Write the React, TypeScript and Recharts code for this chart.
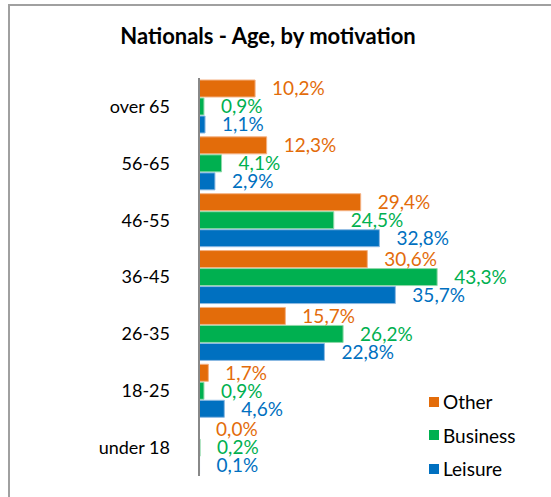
import { Bar, BarChart, LabelList, XAxis, YAxis } from 'recharts';

const categories = ['over 65', '56-65', '46-55', '36-45', '26-35', '18-25', 'under 18'];
const other = [10.2, 12.3, 29.4, 30.6, 15.7, 1.7, 0.0];
const business = [0.9, 4.1, 24.5, 43.3, 26.2, 0.9, 0.2];
const leisure = [1.1, 2.9, 32.8, 35.7, 22.8, 4.6, 0.1];

const series = [
  { key: 'other', name: 'Other', color: '#E36C0A', edge: '#F4B183' },
  { key: 'business', name: 'Business', color: '#00B050', edge: '#8FD9A8' },
  { key: 'leisure', name: 'Leisure', color: '#0070C0', edge: '#8DB9E2' },
];

const data = categories.map((age, i) => ({
  age,
  other: other[i],
  business: business[i],
  leisure: leisure[i],
}));

const font = 'Lato, "Open Sans", sans-serif';
const pct = (v: any) => Number(v).toFixed(1).replace('.', ',') + '%';

function LegendBox() {
  return (
    <div style={{ position: 'absolute', left: 429, top: 385, fontFamily: font, fontSize: 19, color: '#000' }}>
      {series.map((s) => (
        <div key={s.key} style={{ display: 'flex', alignItems: 'center', height: 33.5 }}>
          <span style={{ width: 10, height: 10, background: s.color, marginRight: 4 }} />
          <span>{s.name}</span>
        </div>
      ))}
    </div>
  );
}

export default function App() {
  return (
    <div style={{ position: 'fixed', left: 0, top: 0, width: 551, height: 497, background: '#fff', overflow: 'hidden' }}>
      <div
        style={{
          position: 'absolute',
          left: 8,
          top: 4,
          width: 543,
          height: 493,
          borderTop: '2px solid #a0a0a0',
          borderLeft: '2px solid #a0a0a0',
        }}
      />
      <div
        style={{
          position: 'absolute',
          left: 0,
          width: 536,
          top: 22,
          textAlign: 'center',
          fontFamily: font,
          fontWeight: 'bold',
          fontSize: 22,
          color: '#000',
        }}
      >
        Nationals - Age, by motivation
      </div>
      <div style={{ position: 'absolute', left: 0, top: 0 }}>
        <BarChart
          width={551}
          height={497}
          data={data}
          layout="vertical"
          margin={{ top: 78, right: 22, bottom: 21, left: 0 }}
          barCategoryGap={2}
          barGap={1}
        >
          <XAxis type="number" domain={[0, 60]} hide />
          <YAxis
            type="category"
            dataKey="age"
            width={199}
            tickLine={false}
            tickSize={0}
            tickMargin={29}
            axisLine={{ stroke: '#888', strokeWidth: 2 }}
            tick={{ fill: '#000', fontSize: 18, fontFamily: font }}
          />
          {series.map((s) => (
            <Bar
              key={s.key}
              dataKey={s.key}
              name={s.name}
              fill={s.color}
              stroke={s.edge}
              strokeWidth={1}
              minPointSize={0.1}
              isAnimationActive={false}
            >
              <LabelList
                dataKey={s.key}
                position="right"
                offset={17}
                formatter={pct}
                fill={s.color}
                style={{ fontFamily: font, fontSize: 19 }}
              />
            </Bar>
          ))}
        </BarChart>
      </div>
      <LegendBox />
    </div>
  );
}
